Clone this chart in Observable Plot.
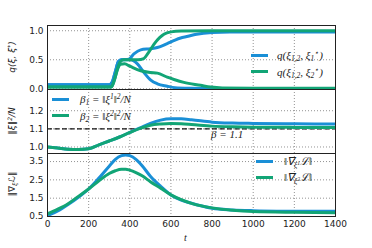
<!DOCTYPE html>
<html>
<head>
<meta charset="utf-8">
<script src="https://cdn.jsdelivr.net/npm/d3@7"></script>
<script src="https://cdn.jsdelivr.net/npm/@observablehq/plot@0.6"></script>
<style>
  body { margin: 0; background: white; }
  #wrap { position: relative; width: 372px; height: 248px; overflow: hidden; font-family: "DejaVu Sans", sans-serif; }
  .pnl { position: absolute; left: 0; }
  .ylab { position: absolute; transform: translate(-50%, -50%) rotate(-90deg); white-space: nowrap; font-size: 9px; font-style: italic; color: #222; line-height: 1; }
  .leg { position: absolute; height: 3px; width: 17px; }
  .ltxt { position: absolute; font-family: "Liberation Serif", serif; font-style: italic; font-size: 11px; white-space: nowrap; color: #222; line-height: 1; transform: translateY(-55%); }
  .sb { font-size: 7.5px; vertical-align: -2.5px; line-height: 0; }
  .sp { font-size: 7.5px; vertical-align: 4px; line-height: 0; }
</style>
</head>
<body>
<div id="wrap"></div>
<script>
const blue = "#1a8fd6";
const green = "#12a576";
const xTicks = [0, 200, 400, 600, 800, 1000, 1200, 1400];

// Top panel: overlaps q
const tQ11 = [0, 300, 315, 330, 345, 360, 395, 420, 453, 500, 534, 582, 620, 647, 677, 725, 800, 887, 1000, 1200, 1400];
const q11  = [0.07, 0.07, 0.12, 0.3, 0.47, 0.5, 0.51, 0.6, 0.67, 0.69, 0.71, 0.78, 0.84, 0.875, 0.9, 0.94, 0.97, 0.98, 0.98, 0.98, 0.98];
const tQ21 = [0, 300, 315, 330, 345, 360, 405, 437, 469, 502, 534, 582, 620, 700, 800, 1000, 1400];
const q21  = [0.07, 0.07, 0.12, 0.3, 0.47, 0.5, 0.5, 0.43, 0.28, 0.15, 0.086, 0.045, 0.02, 0.01, 0.006, 0.005, 0.005];
const tQ12 = [0, 310, 325, 340, 355, 375, 400, 453, 500, 534, 582, 615, 663, 744, 793, 850, 1000, 1400];
const q12  = [0.03, 0.03, 0.15, 0.33, 0.42, 0.43, 0.39, 0.31, 0.28, 0.27, 0.2, 0.16, 0.11, 0.06, 0.03, 0.015, 0.01, 0.01];
const tQ22 = [0, 310, 325, 340, 355, 370, 440, 468, 490, 518, 545, 566, 600, 650, 800, 1400];
const q22  = [0.03, 0.03, 0.15, 0.35, 0.47, 0.5, 0.5, 0.52, 0.62, 0.77, 0.88, 0.94, 0.98, 0.995, 1.0, 1.0];

// Middle panel: norms
const tB = [0, 50, 100, 150, 200, 250, 300, 350, 400, 450, 500, 550, 600, 650, 700, 800, 900, 1000, 1200, 1400];
const b1 = [1.0, 0.994, 0.988, 0.986, 0.99, 1.012, 1.033, 1.055, 1.08, 1.105, 1.13, 1.148, 1.155, 1.155, 1.15, 1.137, 1.132, 1.13, 1.128, 1.126];
const b2 = [1.0, 0.994, 0.988, 0.986, 0.99, 1.012, 1.033, 1.055, 1.08, 1.103, 1.12, 1.127, 1.13, 1.128, 1.124, 1.115, 1.111, 1.109, 1.108, 1.107];
const beta = 1.1;

// Bottom panel: gradient norms
const tG = [0, 50, 100, 150, 200, 250, 300, 330, 360, 380, 400, 430, 460, 500, 550, 600, 650, 700, 800, 900, 1000, 1200, 1400];
const g1 = [0.55, 0.8, 1.15, 1.55, 2.0, 2.6, 3.25, 3.62, 3.82, 3.86, 3.82, 3.62, 3.27, 2.7, 2.15, 1.68, 1.4, 1.22, 0.95, 0.86, 0.82, 0.79, 0.78];
const g2 = [0.65, 0.9, 1.2, 1.6, 2.0, 2.45, 2.85, 3.0, 3.08, 3.08, 3.03, 2.9, 2.72, 2.4, 2.05, 1.68, 1.42, 1.22, 0.97, 0.84, 0.77, 0.73, 0.71];

const toRows = (ts, vs, s) => ts.map((t, i) => ({t, v: vs[i], s}));

const common = {
  width: 372, marginLeft: 47, marginRight: 37,
  style: {background: "transparent", overflow: "visible", fontFamily: "DejaVu Sans", fontSize: "9px", color: "#222"}
};
const grid = (yt) => [
  Plot.gridX(xTicks, {stroke: "#777", strokeOpacity: 1, strokeDasharray: "1,2", strokeWidth: 0.8}),
  Plot.gridY(yt, {stroke: "#777", strokeOpacity: 1, strokeDasharray: "1,2", strokeWidth: 0.8})
];
const ln = (rows, color) => Plot.line(rows, {x: "t", y: "v", stroke: color, strokeWidth: 3, curve: "monotone-x", clip: true});

const yT1 = [0, 0.5, 1.0];
const p1 = Plot.plot({
  ...common, height: 90, marginTop: 25, marginBottom: 1,
  x: {domain: [0, 1400], axis: null},
  y: {domain: [-0.012, 1.09], axis: null},
  marks: [
    ...grid(yT1),
    ln(toRows(tQ11, q11), blue), ln(toRows(tQ21, q21), blue),
    ln(toRows(tQ12, q12), green), ln(toRows(tQ22, q22), green),
    Plot.axisY({ticks: yT1, tickSize: 0, tickPadding: 4, tickFormat: d3.format(".1f"), label: null}),
    Plot.frame({stroke: "#222", strokeWidth: 1})
  ]
});

const yT2 = [1.0, 1.1, 1.2];
const p2 = Plot.plot({
  ...common, height: 66, marginTop: 1, marginBottom: 1,
  x: {domain: [0, 1400], axis: null},
  y: {domain: [0.964, 1.317], axis: null},
  marks: [
    ...grid(yT2),
    Plot.ruleY([beta], {stroke: "#111", strokeWidth: 1.2, strokeDasharray: "5,2.5"}),
    ln(toRows(tB, b1), blue), ln(toRows(tB, b2), green),
    Plot.axisY({ticks: yT2, tickSize: 0, tickPadding: 4, tickFormat: d3.format(".1f"), label: null}),
    Plot.frame({stroke: "#222", strokeWidth: 1})
  ]
});

const yT3 = [0.5, 1.5, 2.5, 3.5];
const p3 = Plot.plot({
  ...common, height: 96, marginTop: 1, marginBottom: 32,
  x: {domain: [0, 1400]},
  y: {domain: [0.5, 3.94]},
  marks: [
    ...grid(yT3),
    ln(toRows(tG, g1), blue), ln(toRows(tG, g2), green),
    Plot.axisY({ticks: yT3, tickSize: 0, tickPadding: 4, tickFormat: d3.format(".1f"), label: null}),
    Plot.axisX({ticks: xTicks, tickSize: 0, tickPadding: 4, tickFormat: d => String(d), label: null}),
    Plot.frame({stroke: "#222", strokeWidth: 1})
  ]
});

const wrap = document.getElementById("wrap");
[[p1, 0], [p2, 88], [p3, 152]].forEach(([p, top]) => {
  const d = document.createElement("div");
  d.className = "pnl"; d.style.top = top + "px";
  d.appendChild(p); wrap.appendChild(d);
});

function add(html, cls, css) {
  const d = document.createElement("div");
  d.className = cls; d.innerHTML = html;
  Object.assign(d.style, css);
  wrap.appendChild(d);
}
// y labels
add("q(ξ, ξ<span class='sp' style='font-size:6px;vertical-align:3px'>*</span>)", "ylab", {left: "12px", top: "57px"});
add("‖ξ‖<span class='sp' style='font-size:6px;vertical-align:3px'>2</span>/N", "ylab", {left: "12px", top: "121px"});
add("‖∇<span class='sb' style='font-size:6px'>ξ</span>ℒ‖", "ylab", {left: "12px", top: "184px"});
// x label
add("t", "ltxt", {left: "184px", top: "238px", fontSize: "10px"});

// legends
add("", "leg", {left: "251px", top: "53.5px", background: blue});
add("", "leg", {left: "251px", top: "70px", background: green});
add("q(ξ<span class='sb'>1,2</span>, ξ<span class='sb'>1</span><span class='sp'>⋆</span>)", "ltxt", {left: "277px", top: "56px"});
add("q(ξ<span class='sb'>1,2</span>, ξ<span class='sb'>2</span><span class='sp'>⋆</span>)", "ltxt", {left: "277px", top: "73px"});

add("", "leg", {left: "52px", top: "97.5px", background: blue});
add("", "leg", {left: "52px", top: "114px", background: green});
add("β<span class='sb'>1</span> = ‖ξ<span class='sp'>1</span>‖<span class='sp'>2</span>/N", "ltxt", {left: "80px", top: "100px"});
add("β<span class='sb'>2</span> = ‖ξ<span class='sp'>2</span>‖<span class='sp'>2</span>/N", "ltxt", {left: "80px", top: "117px"});
add("β = 1.1", "ltxt", {left: "211px", top: "135px"});

add("", "leg", {left: "256px", top: "159.5px", background: blue});
add("", "leg", {left: "256px", top: "176px", background: green});
add("‖∇<span class='sb'>ξ<span style='font-size:5.5px;vertical-align:3px'>1</span></span>ℒ‖", "ltxt", {left: "284px", top: "162px"});
add("‖∇<span class='sb'>ξ<span style='font-size:5.5px;vertical-align:3px'>2</span></span>ℒ‖", "ltxt", {left: "284px", top: "178px"});
</script>
</body>
</html>
